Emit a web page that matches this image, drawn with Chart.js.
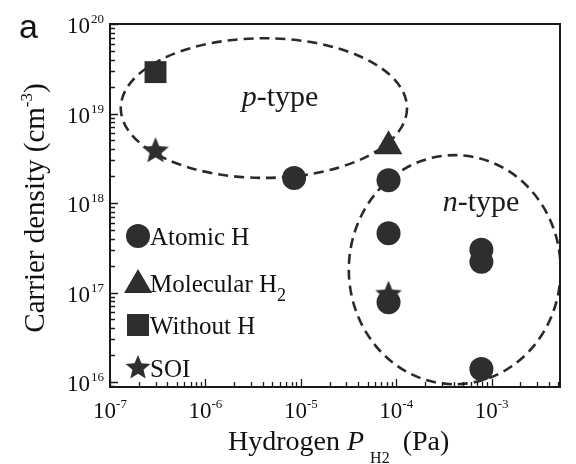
<!DOCTYPE html>
<html><head><meta charset="utf-8">
<script src="https://cdn.jsdelivr.net/npm/chart.js@4/dist/chart.umd.min.js"></script>
<style>html,body{margin:0;padding:0;background:#fff}#wrap{width:576px;height:464px}</style>
</head><body><div id="wrap"><canvas id="c" width="576" height="464"></canvas></div>
<script>
// ---- data ----
const seriesNames = ['Atomic H', 'Molecular H', 'Without H', 'SOI'];
const atomicX = [8.5e-6, 8.3e-5, 8.3e-5, 8.3e-5, 7.8e-4, 7.8e-4, 7.8e-4];
const atomicY = [1.9e18, 1.8e18, 4.6e17, 7.8e16, 3.0e17, 2.2e17, 1.4e16];
const molecularX = [8.3e-5];
const molecularY = [4.3e18];
const withoutX = [3.0e-7];
const withoutY = [2.9e19];
const soiX = [3.0e-7, 8.3e-5];
const soiY = [3.8e18, 9.5e16];
const xTickExps = [-7, -6, -5, -4, -3];
const yTickExps = [16, 17, 18, 19, 20];
const regionNames = ['p', 'n'];
// region ellipses in data units: centre value and half-axes in decades
const pRegion = [4.1e-6, 1.15e19, 1.5, 0.78];
const nRegion = [4.1e-4, 1.8e17, 1.11, 1.28];

const FONT = "'Liberation Serif','Times New Roman',serif";
const INK = '#2e2e2e';

function makeStar(R, ratio, color) {
  const c = document.createElement('canvas');
  const s = Math.ceil(2 * R + 2);
  c.width = s; c.height = s;
  const g = c.getContext('2d');
  g.fillStyle = color;
  g.beginPath();
  for (let i = 0; i < 10; i++) {
    const r = i % 2 ? R * ratio : R;
    const a = -Math.PI / 2 + i * Math.PI / 5;
    const px = s / 2 + r * Math.cos(a), py = s / 2 + r * Math.sin(a);
    i ? g.lineTo(px, py) : g.moveTo(px, py);
  }
  g.closePath(); g.fill();
  return c;
}
const starImg = makeStar(14, 0.45, INK);
const starLegend = makeStar(13, 0.45, INK);

const toPts = (xs, ys) => xs.map((x, i) => ({x, y: ys[i]}));

function drawRich(ctx, segs, x, y, align) {
  let total = 0;
  segs.forEach(s => { ctx.font = (s.it ? 'italic ' : '') + s.size + 'px ' + FONT; s.w = ctx.measureText(s.t).width; total += s.w + (s.gap || 0); });
  let cx = align === 'center' ? x - total / 2 : (align === 'right' ? x - total : x);
  ctx.textAlign = 'left'; ctx.textBaseline = 'alphabetic';
  segs.forEach(s => {
    ctx.font = (s.it ? 'italic ' : '') + s.size + 'px ' + FONT;
    ctx.fillText(s.t, cx, y + (s.dy || 0));
    cx += s.w + (s.gap || 0);
  });
}

const decorPlugin = {
  id: 'decor',
  beforeDatasetsDraw(chart) {
    const {ctx, chartArea: a, scales: {x, y}} = chart;
    ctx.save();
    ctx.beginPath(); ctx.rect(a.left, a.top, a.right - a.left, a.bottom - a.top); ctx.clip();
    ctx.strokeStyle = '#2a2a2a'; ctx.lineWidth = 2.6; ctx.setLineDash([10, 6]);
    [pRegion, nRegion].forEach(r => {
      const cx = x.getPixelForValue(r[0]), cy = y.getPixelForValue(r[1]);
      const rx = x.getPixelForValue(r[0] * Math.pow(10, r[2])) - cx;
      const ry = cy - y.getPixelForValue(r[1] * Math.pow(10, r[3]));
      ctx.beginPath(); ctx.ellipse(cx, cy, rx, ry, 0, 0, Math.PI * 2); ctx.stroke();
    });
    ctx.restore();
  },
  afterDraw(chart) {
    const {ctx, chartArea: a, scales: {x, y}} = chart;
    ctx.save();
    // frame
    ctx.strokeStyle = '#1a1a1a'; ctx.lineWidth = 2;
    ctx.strokeRect(a.left, a.top, a.right - a.left, a.bottom - a.top);
    // ticks
    ctx.lineWidth = 1.3;
    ctx.beginPath();
    for (let d = -8; d <= -2; d++) {
      for (let m = 1; m <= 9; m++) {
        const v = m * Math.pow(10, d);
        if (v < x.min * 0.999 || v > x.max * 1.001) continue;
        const px = Math.round(x.getPixelForValue(v)) + 0.5;
        const len = m === 1 ? 8 : 5;
        ctx.moveTo(px, a.bottom); ctx.lineTo(px, a.bottom - len);
      }
    }
    for (let d = 15; d <= 20; d++) {
      for (let m = 1; m <= 9; m++) {
        const v = m * Math.pow(10, d);
        if (v < y.min * 0.999 || v > y.max * 1.001) continue;
        const py = Math.round(y.getPixelForValue(v)) + 0.5;
        const len = m === 1 ? 8 : 5;
        ctx.moveTo(a.left, py); ctx.lineTo(a.left + len, py);
      }
    }
    ctx.stroke();
    // tick labels
    ctx.fillStyle = '#111';
    xTickExps.forEach(e => {
      const px = x.getPixelForValue(Math.pow(10, e));
      drawRich(ctx, [{t: '10', size: 23}, {t: String(e), size: 13, dy: -10}], px, 418, 'center');
    });
    yTickExps.forEach(e => {
      const py = y.getPixelForValue(Math.pow(10, e));
      drawRich(ctx, [{t: '10', size: 23, gap: 1}, {t: String(e), size: 13, dy: -10}], 104, py + 9, 'right');
    });
    // axis titles
    drawRich(ctx, [{t: 'Hydrogen ', size: 28}, {t: 'P', size: 28, it: true, gap: 6}, {t: 'H2', size: 16, dy: 13, gap: 13}, {t: '(Pa)', size: 28}], 228, 450, 'left');
    ctx.save();
    ctx.translate(44, 208); ctx.rotate(-Math.PI / 2);
    drawRich(ctx, [{t: 'Carrier density (cm', size: 29}, {t: '-3', size: 17, dy: -12}, {t: ')', size: 29}], 0, 0, 'center');
    ctx.restore();
    // panel letter
    ctx.font = "34px 'Liberation Sans', Arial, sans-serif";
    ctx.textAlign = 'left'; ctx.textBaseline = 'alphabetic';
    ctx.fillText('a', 19, 38);
    // region labels
    ctx.fillStyle = '#1a1a1a';
    drawRich(ctx, [{t: regionNames[0], size: 30, it: true}, {t: '-type', size: 30}], 280, 106, 'center');
    drawRich(ctx, [{t: regionNames[1], size: 30, it: true}, {t: '-type', size: 30}], 481, 211, 'center');
    // legend
    const lx = 138, tx = 150;
    const rows = [236, 283, 325, 368];
    ctx.fillStyle = INK;
    ctx.beginPath(); ctx.arc(lx, rows[0], 12, 0, Math.PI * 2); ctx.fill();
    ctx.beginPath(); ctx.moveTo(lx, rows[1] - 14); ctx.lineTo(lx + 14, rows[1] + 10); ctx.lineTo(lx - 14, rows[1] + 10); ctx.closePath(); ctx.fill();
    ctx.fillRect(lx - 11, rows[2] - 11, 22, 22);
    ctx.drawImage(starLegend, lx - starLegend.width / 2, rows[3] - starLegend.height / 2);
    ctx.fillStyle = '#111';
    drawRich(ctx, [{t: seriesNames[0], size: 25}], tx, rows[0] + 9, 'left');
    drawRich(ctx, [{t: seriesNames[1], size: 25}, {t: '2', size: 18, dy: 9}], tx, rows[1] + 9, 'left');
    drawRich(ctx, [{t: seriesNames[2], size: 25}], tx, rows[2] + 9, 'left');
    drawRich(ctx, [{t: seriesNames[3], size: 25}], tx, rows[3] + 9, 'left');
    ctx.restore();
  }
};

new Chart(document.getElementById('c'), {
  type: 'scatter',
  data: {
    datasets: [
      {label: seriesNames[0], data: toPts(atomicX, atomicY), pointStyle: 'circle', pointRadius: 12, backgroundColor: INK, borderColor: INK, borderWidth: 0},
      {label: seriesNames[1] + '2', data: toPts(molecularX, molecularY), pointStyle: 'triangle', pointRadius: 16, backgroundColor: INK, borderColor: INK, borderWidth: 0},
      {label: seriesNames[2], data: toPts(withoutX, withoutY), pointStyle: 'rect', pointRadius: 15.5, backgroundColor: INK, borderColor: INK, borderWidth: 0},
      {label: seriesNames[3], data: toPts(soiX, soiY), pointStyle: starImg, pointRadius: 14, backgroundColor: INK, borderColor: INK, borderWidth: 0}
    ]
  },
  options: {
    responsive: false, animation: false, devicePixelRatio: 1,
    layout: {padding: {left: 110, right: 8, top: 24, bottom: 77}},
    plugins: {legend: {display: false}, tooltip: {enabled: false}},
    scales: {
      x: {type: 'logarithmic', min: 1e-7, max: 5.2e-3, display: false},
      y: {type: 'logarithmic', min: 8.8e15, max: 1e20, display: false}
    }
  },
  plugins: [decorPlugin]
});
</script></body></html>
